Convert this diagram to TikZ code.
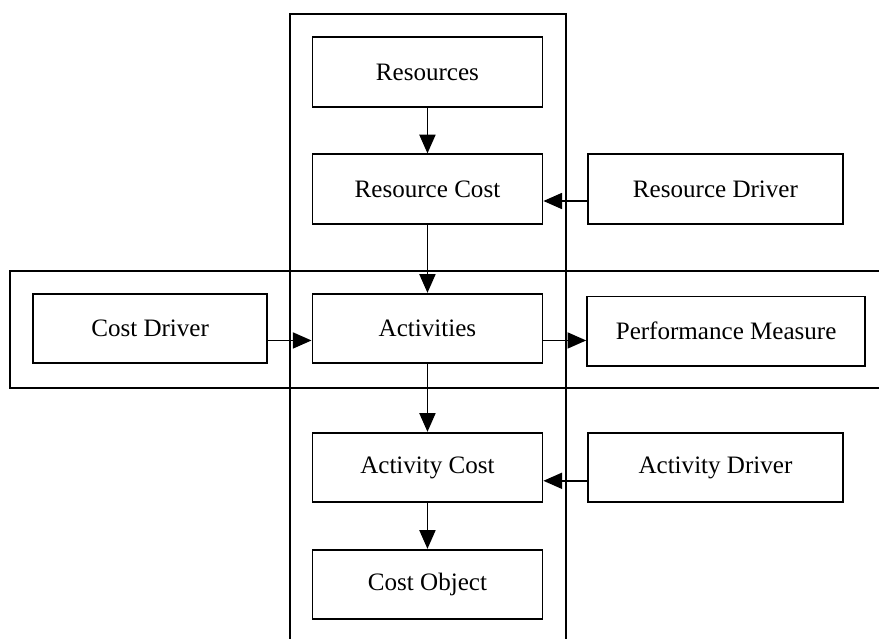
\documentclass[tikz,border=0pt]{standalone}
\usepackage{fontspec}
\setmainfont{Liberation Serif}
\usetikzlibrary{arrows.meta, positioning}

\begin{document}
\begin{tikzpicture}[node distance=104pt, on grid,
    block/.style={draw, line width=1.4pt, minimum width=172.5pt, minimum height=52pt,
                  font=\fontsize{18.8}{22}\selectfont},
    frame/.style={draw, line width=1.2pt},
    flow/.style={-{Triangle[length=14pt,width=12pt]}, line width=1.3pt}]

   \useasboundingbox (0,0) rectangle (659.25pt,-479.25pt);

   \draw[frame] (217.5pt,-485pt) |- (424.5pt,-10.5pt) -- (424.5pt,-485pt);
   \draw[frame] (665pt,-203.25pt) -| (7.5pt,-291pt) -- (665pt,-291pt);

   \node[block] (res) at (320.6pt,-54pt) {Resources};
   \node[block] (rescost) [below=87.75pt of res] {Resource Cost};
   \node[block] (act) [below=104.6pt of rescost] {Activities};
   \node[block] (actcost) [below=104.25pt of act] {Activity Cost};
   \node[block] (costobj) [below=87.75pt of actcost] {Cost Object};

   \node[block, minimum width=191pt] (resdrv) [right=216pt of rescost] {Resource Driver};
   \node[block, minimum width=208.5pt] (perf) [right=224pt of act, yshift=-2pt] {Performance Measure};
   \node[block, minimum width=191pt] (actdrv) [right=216pt of actcost] {Activity Driver};
   \node[block, minimum width=175.5pt] (costdrv) [left=208pt of act] {Cost Driver};

   \path[flow]
    (res) edge (rescost)
    (rescost) edge (act)
    (act) edge (actcost)
    (actcost) edge (costobj);

   \draw[flow] ([yshift=-9pt]resdrv.west) -- ([yshift=-9pt]rescost.east);
   \draw[flow] ([yshift=-9pt]costdrv.east) -- ([yshift=-9pt]act.west);
   \draw[flow] ([yshift=-9pt]act.east) -- ([yshift=-9pt]act.east -| perf.west);
   \draw[flow] ([yshift=-10pt]actdrv.west) -- ([yshift=-10pt]actcost.east);

\end{tikzpicture}
\end{document}
